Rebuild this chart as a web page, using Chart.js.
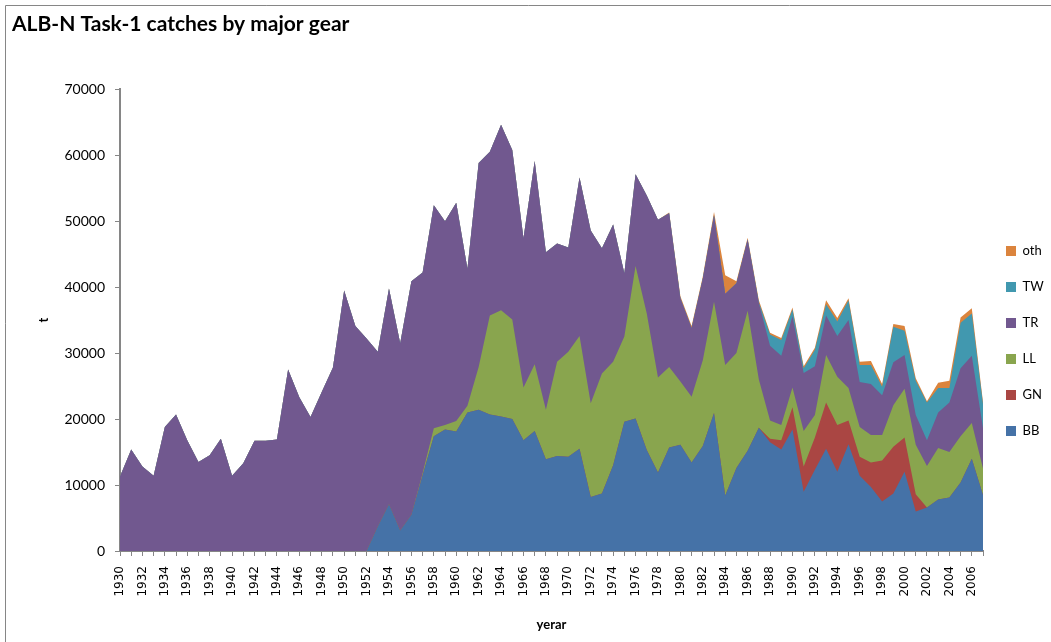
<!DOCTYPE html>
<html>
<head>
<meta charset="utf-8">
<script src="https://cdn.jsdelivr.net/npm/chart.js@4"></script>
<style>
  html, body { margin: 0; padding: 0; background: #ffffff; }
  #wrap { width: 1051px; height: 642px; }
</style>
</head>
<body>
<div id="wrap"><canvas id="c" width="1051" height="642"></canvas></div>
<script>
const years = [
  '1930','1931','1932','1933','1934','1935','1936','1937','1938','1939',
  '1940','1941','1942','1943','1944','1945','1946','1947','1948','1949',
  '1950','1951','1952','1953','1954','1955','1956','1957','1958','1959',
  '1960','1961','1962','1963','1964','1965','1966','1967','1968','1969',
  '1970','1971','1972','1973','1974','1975','1976','1977','1978','1979',
  '1980','1981','1982','1983','1984','1985','1986','1987','1988','1989',
  '1990','1991','1992','1993','1994','1995','1996','1997','1998','1999',
  '2000','2001','2002','2003','2004','2005','2006','2007'
];

const BB = [
  0,0,0,0,0,0,0,0,0,0,
  0,0,0,0,0,0,0,0,0,0,
  0,0,0,3700,7100,3100,5500,11500,17400,18400,
  18100,21000,21400,20700,20400,20000,16800,18200,13900,14400,
  14300,15500,8200,8700,13000,19600,20100,15300,11900,15700,
  16100,13400,15900,20900,8400,12600,15200,18700,16500,15400,
  18400,9000,12300,15500,12000,16200,11400,9700,7500,8700,
  12000,6000,6600,7800,8100,10400,14000,8500
];

const GN = [
  0,0,0,0,0,0,0,0,0,0,
  0,0,0,0,0,0,0,0,0,0,
  0,0,0,0,0,0,0,0,0,0,
  0,0,0,0,0,0,0,0,0,0,
  0,0,0,0,0,0,0,0,0,0,
  0,0,0,0,0,0,0,0,500,1400,
  3400,3800,4900,7000,7100,3600,2900,3700,6200,7100,
  5200,2600,0,0,0,0,0,0
];

const LL = [
  0,0,0,0,0,0,0,0,0,0,
  0,0,0,0,0,0,0,0,0,0,
  0,0,0,0,0,0,0,300,1200,700,
  1600,1000,6500,15000,16100,15100,8000,10100,7500,14300,
  15900,17100,14200,18200,15700,12900,23100,20700,14400,12200,
  9600,10000,13000,16900,19800,17400,21200,7300,2800,2300,
  3000,5400,3400,7200,7300,4900,4500,4200,3900,6300,
  7400,7500,6300,7800,6900,7000,5400,4000
];

const TR = [
  11300,15400,12800,11400,18800,20700,16800,13500,14500,17000,
  11400,13300,16700,16700,16900,27500,23300,20300,24100,27800,
  39500,34100,32200,26500,32700,28400,35400,30400,33800,30900,
  33100,20800,30900,24800,28100,25700,22600,30800,23900,17900,
  15800,24000,26200,19000,20800,9600,13900,17900,23900,23300,
  12600,10400,12400,13100,10800,10600,10800,11600,11300,10500,
  10800,8800,7400,6000,6200,10300,6800,7700,6000,6500,
  5100,4500,3900,5400,7500,10300,10200,6100
];

const TW = [
  0,0,0,0,0,0,0,0,0,0,
  0,0,0,0,0,0,0,0,0,0,
  0,0,0,0,0,0,0,0,0,0,
  0,0,0,0,0,0,0,0,0,0,
  0,0,0,0,0,0,0,0,0,0,
  0,0,0,0,0,0,0,100,1700,2400,
  1000,700,2500,1700,2200,3000,2600,2900,1300,5400,
  3700,5200,5700,3700,2200,6900,6400,3700
];

const oth = [
  0,0,0,0,0,0,0,0,0,0,
  0,0,0,0,0,0,0,0,0,0,
  0,0,0,0,0,0,0,0,0,0,
  0,0,0,0,0,0,0,0,0,0,
  0,0,0,0,0,0,0,0,0,100,
  300,300,300,500,2800,300,300,300,300,300,
  300,300,300,600,500,300,500,600,400,400,
  700,400,200,800,1100,800,800,300
];

const yTicks = [0, 10000, 20000, 30000, 40000, 50000, 60000, 70000];

const seriesNames = ['BB', 'GN', 'LL', 'TR', 'TW', 'oth'];
const seriesData = [BB, GN, LL, TR, TW, oth];
const seriesColors = ['#4572A7', '#AA4643', '#89A54E', '#71588F', '#4198AF', '#DB843D'];

const axisGray = '#868686';

Chart.defaults.font.family = 'Lato, "Open Sans", sans-serif';
Chart.defaults.color = '#000000';

const frame = {
  id: 'frame',
  beforeDraw(chart) {
    const ctx = chart.ctx;
    ctx.save();
    ctx.fillStyle = '#ffffff';
    ctx.fillRect(0, 0, chart.width, chart.height);
    ctx.strokeStyle = axisGray;
    ctx.lineWidth = 1;
    ctx.beginPath();
    ctx.moveTo(5.5, chart.height);
    ctx.lineTo(5.5, 5.5);
    ctx.lineTo(chart.width, 5.5);
    ctx.stroke();
    ctx.restore();
  }
};

const datasets = seriesNames.map((name, i) => ({
  label: name,
  data: seriesData[i],
  backgroundColor: seriesColors[i],
  borderColor: 'rgba(0,0,0,0)',
  borderWidth: 0,
  fill: 'origin',
  pointRadius: 0,
  pointHoverRadius: 0,
  tension: 0
}));

new Chart(document.getElementById('c'), {
  type: 'line',
  data: { labels: years, datasets: datasets },
  plugins: [frame],
  options: {
    responsive: false,
    animation: false,
    events: [],
    layout: { padding: { left: 12, right: 0, top: 0, bottom: 0 } },
    plugins: {
      title: {
        display: true,
        text: 'ALB-N Task-1 catches by major gear',
        align: 'start',
        color: '#000000',
        font: { size: 21, weight: 'bold', family: 'Lato, sans-serif' },
        padding: { top: 12, bottom: 52 }
      },
      legend: {
        display: true,
        position: 'right',
        reverse: true,
        maxWidth: 68,
        title: { display: true, text: '', font: { size: 10, lineHeight: 1 }, padding: { top: 15, bottom: 15 } },
        labels: {
          boxWidth: 10,
          boxHeight: 10,
          padding: 23,
          color: '#000000',
          font: { size: 13 },
          generateLabels(chart) {
            const items = Chart.defaults.plugins.legend.labels.generateLabels(chart);
            items.forEach(it => {
              it.lineWidth = 0;
              it.strokeStyle = 'rgba(0,0,0,0)';
              it.fillStyle = seriesColors[it.datasetIndex];
            });
            return items;
          }
        }
      },
      tooltip: { enabled: false }
    },
    scales: {
      x: {
        type: 'category',
        offset: false,
        z: 1,
        afterFit(scale) { scale.height = 91; },
        grid: {
          display: true,
          drawOnChartArea: false,
          drawTicks: true,
          tickLength: 5,
          color: axisGray,
          lineWidth: 1,
          offset: false
        },
        border: { display: true, color: axisGray, width: 2 },
        ticks: {
          autoSkip: false,
          maxRotation: 90,
          minRotation: 90,
          padding: 10,
          color: '#000000',
          font: { family: '"DejaVu Sans", sans-serif', size: 12 },
          callback(value, index) { return index % 2 === 0 ? years[index] : ''; }
        },
        title: {
          display: true,
          text: 'yerar',
          color: '#000000',
          font: { size: 13, weight: 'bold' },
          padding: { top: 0, bottom: 9 }
        }
      },
      y: {
        stacked: true,
        min: 0,
        max: 70000,
        z: 1,
        afterFit(scale) { scale.width = 108; },
        afterBuildTicks(scale) { scale.ticks = yTicks.map(v => ({ value: v })); },
        grid: {
          display: true,
          drawOnChartArea: false,
          drawTicks: true,
          tickLength: 5,
          color: axisGray,
          lineWidth: 1
        },
        border: { display: true, color: axisGray, width: 2 },
        ticks: {
          padding: 10,
          color: '#000000',
          font: { size: 14 },
          callback(value) { return String(value); }
        },
        title: {
          display: true,
          text: 't',
          color: '#000000',
          font: { size: 13, weight: 'bold' },
          padding: { top: 24, bottom: 0 }
        }
      }
    }
  }
});
</script>
</body>
</html>
